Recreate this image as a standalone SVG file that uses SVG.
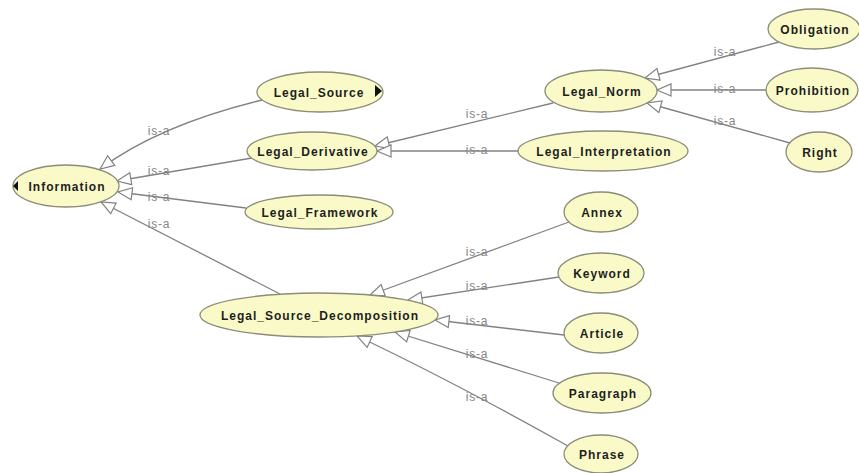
<svg xmlns="http://www.w3.org/2000/svg" width="859" height="473" viewBox="0 0 859 473">
  <style>
    .node ellipse { fill: #fafac8; stroke: #8c8c78; stroke-width: 1.3; }
    .node text { font-family: "Liberation Sans", Arial, sans-serif; font-size: 12px; font-weight: bold; letter-spacing: 1px; fill: #1e1e1e; text-anchor: middle; }
    .edge { fill: none; stroke: #828282; stroke-width: 1.3; marker-end: url(#isa); }
    .lbl { font-family: "Liberation Sans", Arial, sans-serif; font-size: 12px; letter-spacing: 0.8px; fill: #858585; text-anchor: middle; }
    .expand { fill: #111; }
  </style>
  <defs>
    <marker id="isa" viewBox="-1 -1 16 14" refX="14" refY="6" markerWidth="16" markerHeight="14" orient="auto" markerUnits="userSpaceOnUse">
      <path d="M0,0 L14,6 L0,12 Z" fill="#ffffff" stroke="#828282" stroke-width="1.2"/>
    </marker>
  </defs>
  <rect width="859" height="473" fill="#ffffff"/>

  <!-- subclass connectors -->
  <g id="connectors">
    <path class="edge" d="M262,100 Q159,125 100,169"/>
    <path class="edge" d="M252,158 L117,181"/>
    <path class="edge" d="M246,208 L118,192"/>
    <path class="edge" d="M280,294 L101,202"/>
    <path class="edge" d="M553,103 L375,146"/>
    <path class="edge" d="M518,151 L377,151"/>
    <path class="edge" d="M779,42 L645,78"/>
    <path class="edge" d="M766,90 L657,90"/>
    <path class="edge" d="M790,143 L647,103"/>
    <path class="edge" d="M569,222 L370,295"/>
    <path class="edge" d="M559,277 L408,300"/>
    <path class="edge" d="M564,335 L435,320"/>
    <path class="edge" d="M559,383 L395,332"/>
    <path class="edge" d="M568,446 Q450,380 357,336"/>
    <text class="lbl" x="159" y="135">is-a</text>
    <text class="lbl" x="159" y="175">is-a</text>
    <text class="lbl" x="159" y="201">is-a</text>
    <text class="lbl" x="159" y="228">is-a</text>
    <text class="lbl" x="477" y="118">is-a</text>
    <text class="lbl" x="477" y="154">is-a</text>
    <text class="lbl" x="725" y="56">is-a</text>
    <text class="lbl" x="725" y="93">is-a</text>
    <text class="lbl" x="725" y="125">is-a</text>
    <text class="lbl" x="477" y="256">is-a</text>
    <text class="lbl" x="477" y="290">is-a</text>
    <text class="lbl" x="477" y="325">is-a</text>
    <text class="lbl" x="477" y="358">is-a</text>
    <text class="lbl" x="477" y="401">is-a</text>
  </g>

  <g id="Information" class="node">
    <ellipse cx="66" cy="186" rx="53" ry="21"/>
    <polygon class="expand" points="13,186 18,181 18,191"/>
    <text x="67" y="191">Information</text>
  </g>
  <g id="Legal_Source" class="node">
    <ellipse cx="320" cy="92" rx="63" ry="20"/>
    <polygon class="expand" points="375,85 382,91 375,97"/>
    <text x="319" y="97">Legal_Source</text>
  </g>
  <g id="Legal_Derivative" class="node">
    <ellipse cx="312" cy="151" rx="65" ry="19"/>
    <text x="313" y="156">Legal_Derivative</text>
  </g>
  <g id="Legal_Framework" class="node">
    <ellipse cx="319" cy="212" rx="74" ry="17"/>
    <text x="320" y="217">Legal_Framework</text>
  </g>
  <g id="Legal_Source_Decomposition" class="node">
    <ellipse cx="319" cy="315" rx="119" ry="22"/>
    <text x="320" y="320">Legal_Source_Decomposition</text>
  </g>
  <g id="Legal_Norm" class="node">
    <ellipse cx="601" cy="91" rx="56" ry="21"/>
    <text x="602" y="96">Legal_Norm</text>
  </g>
  <g id="Legal_Interpretation" class="node">
    <ellipse cx="603" cy="151" rx="85" ry="20"/>
    <text x="604" y="156">Legal_Interpretation</text>
  </g>
  <g id="Obligation" class="node">
    <ellipse cx="814" cy="29" rx="46" ry="20"/>
    <text x="815" y="34">Obligation</text>
  </g>
  <g id="Prohibition" class="node">
    <ellipse cx="812" cy="90" rx="46" ry="22"/>
    <text x="813" y="95">Prohibition</text>
  </g>
  <g id="Right" class="node">
    <ellipse cx="819" cy="152" rx="33" ry="20"/>
    <text x="820" y="157">Right</text>
  </g>
  <g id="Annex" class="node">
    <ellipse cx="601" cy="212" rx="37" ry="20"/>
    <text x="602" y="217">Annex</text>
  </g>
  <g id="Keyword" class="node">
    <ellipse cx="601" cy="273" rx="43" ry="20"/>
    <text x="602" y="278">Keyword</text>
  </g>
  <g id="Article" class="node">
    <ellipse cx="601" cy="333" rx="37" ry="20"/>
    <text x="602" y="338">Article</text>
  </g>
  <g id="Paragraph" class="node">
    <ellipse cx="602" cy="393" rx="49" ry="20"/>
    <text x="603" y="398">Paragraph</text>
  </g>
  <g id="Phrase" class="node">
    <ellipse cx="601" cy="454" rx="37" ry="19"/>
    <text x="602" y="459">Phrase</text>
  </g>
</svg>
